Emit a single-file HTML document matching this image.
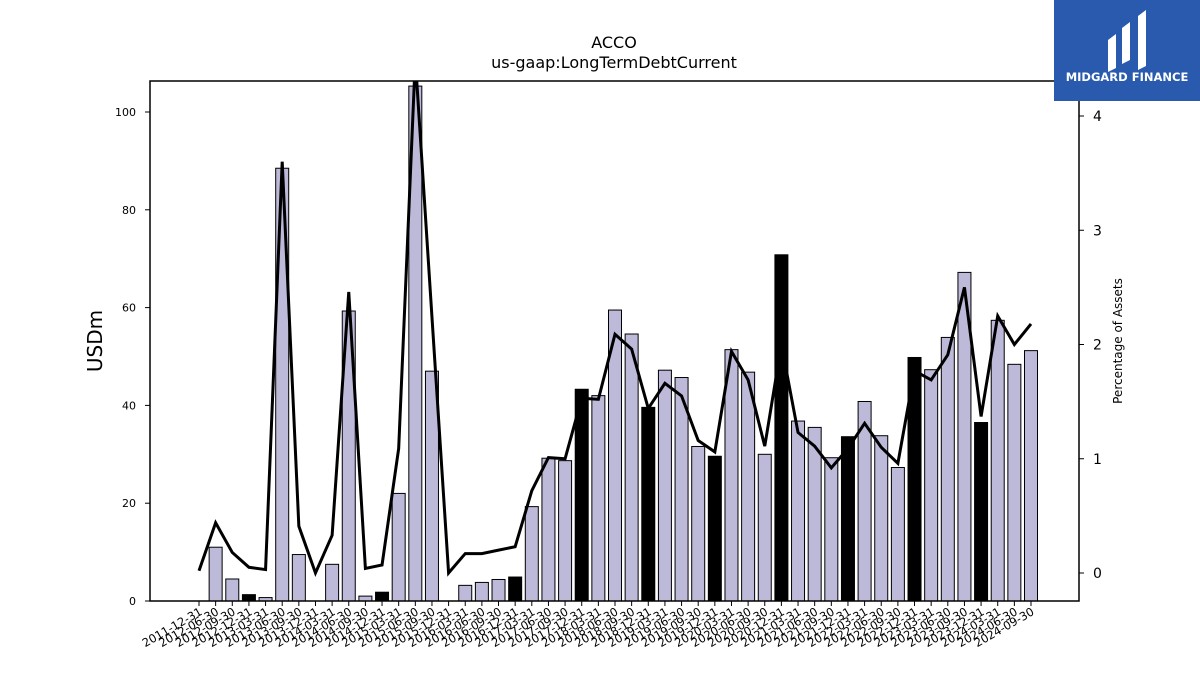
<!DOCTYPE html>
<html><head><meta charset="utf-8"><style>
body{margin:0;background:#fff;width:1200px;height:675px;overflow:hidden}
svg{font-family:"DejaVu Sans","Liberation Sans",sans-serif}
</style></head><body>
<svg id="chart" width="1200" height="675" xmlns="http://www.w3.org/2000/svg">
<text x="614" y="48" font-size="16" text-anchor="middle">ACCO</text>
<text x="614" y="68" font-size="16" text-anchor="middle">us-gaap:LongTermDebtCurrent</text>
<g id="bars"></g>
<g id="lines"></g>
<g id="axes"></g>
<rect x="150" y="81" width="929" height="520" fill="none" stroke="#000" stroke-width="1.5"/>
<text transform="translate(102,341) rotate(-90)" font-size="20" text-anchor="middle">USDm</text>
<text transform="translate(1122,341) rotate(-90)" font-size="12" text-anchor="middle">Percentage of Assets</text>
<g>
<rect x="1054" y="0" width="146" height="101" fill="#2a5aad"/>
<path d="M1108 40 L1116 34 L1116 68 L1108 72 Z M1122 28 L1130 22 L1130 60 L1122 64 Z M1138 16 L1146 10 L1146 66 L1138 70 Z" fill="#fff"/>
<text x="1127" y="81" font-size="11.5" font-weight="bold" fill="#fff" text-anchor="middle">MIDGARD FINANCE</text>
</g>
</svg>
<script>
const labels=["2011-12-31","2012-06-30","2012-09-30","2012-12-31","2013-03-31","2013-06-30","2013-09-30","2013-12-31","2014-03-31","2014-06-30","2014-09-30","2014-12-31","2015-03-31","2015-06-30","2015-09-30","2015-12-31","2016-03-31","2016-06-30","2016-09-30","2016-12-31","2017-03-31","2017-06-30","2017-09-30","2017-12-31","2018-03-31","2018-06-30","2018-09-30","2018-12-31","2019-03-31","2019-06-30","2019-09-30","2019-12-31","2020-03-31","2020-06-30","2020-09-30","2020-12-31","2021-03-31","2021-06-30","2021-09-30","2021-12-31","2022-03-31","2022-06-30","2022-09-30","2022-12-31","2023-03-31","2023-06-30","2023-09-30","2023-12-31","2024-03-31","2024-06-30","2024-09-30"];
const debt=[0,11.0,4.5,1.3,0.7,88.5,9.5,0,7.5,59.3,1.0,1.8,22,105.3,47,0,3.2,3.8,4.4,4.9,19.3,29.2,28.7,43.3,42,59.5,54.6,39.6,47.2,45.7,31.6,29.6,51.4,46.8,30,70.8,36.8,35.5,29.3,33.6,40.8,33.8,27.3,49.8,47.3,53.9,67.2,36.5,57.4,48.4,51.2];
const pct=[0.02,0.44,0.18,0.05,0.03,3.6,0.41,0.0,0.33,2.46,0.04,0.07,1.09,4.5,2.24,0.0,0.17,0.17,0.2,0.23,0.72,1.01,1.0,1.53,1.52,2.09,1.96,1.44,1.66,1.55,1.16,1.06,1.94,1.69,1.11,2.0,1.23,1.11,0.92,1.09,1.31,1.1,0.96,1.77,1.69,1.91,2.5,1.37,2.25,2.0,2.18];
const leftTicks=[0,20,40,60,80,100];
const rightTicks=[0,1,2,3,4];
const NS="http://www.w3.org/2000/svg";
const xPos=i=>199+(1031-199)*i/(labels.length-1);
const yL=v=>601-v*(601-112)/100;
const yR=v=>573-v*(573-116)/4;
function mk(t,a,p){const e=document.createElementNS(NS,t);for(const k in a)e.setAttribute(k,a[k]);p.appendChild(e);return e;}
const bars=document.getElementById('bars'),lines=document.getElementById('lines'),axes=document.getElementById('axes');
const bw=13;
debt.forEach((v,i)=>{if(v<=0)return;const annual=labels[i].endsWith('12-31');
const top=Math.max(yL(v),81);
const r=mk('rect',{x:xPos(i)-bw/2,y:top,width:bw,height:601-top,fill:annual?'#000':'#bdbad9',stroke:'#000','stroke-width':1},bars);

});
const cp=mk('clipPath',{id:'cp'},document.getElementById('chart'));mk('rect',{x:150,y:81,width:929,height:520},cp);
const pl=mk('polyline',{points:pct.map((v,i)=>xPos(i)+','+yR(v)).join(' '),fill:'none',stroke:'#000','stroke-width':3,'clip-path':'url(#cp)','stroke-linejoin':'miter'},lines);


labels.forEach((l,i)=>{const x=xPos(i);mk('line',{x1:x,x2:x,y1:601,y2:606,stroke:'#000'},axes);
const t=mk('text',{transform:`translate(${x+4},614) rotate(-30)`,'font-size':11.5,'text-anchor':'end'},axes);t.textContent=l;

});
leftTicks.forEach(v=>{const y=yL(v);mk('line',{x1:145,x2:150,y1:y,y2:y,stroke:'#000'},axes);
const t=mk('text',{x:136,y:y+4,'font-size':11,'text-anchor':'end'},axes);t.textContent=v;

});
rightTicks.forEach(v=>{const y=yR(v);mk('line',{x1:1079,x2:1084,y1:y,y2:y,stroke:'#000'},axes);
const t=mk('text',{x:1093,y:y+5,'font-size':14},axes);t.textContent=v;

});
</script>
</body></html>
